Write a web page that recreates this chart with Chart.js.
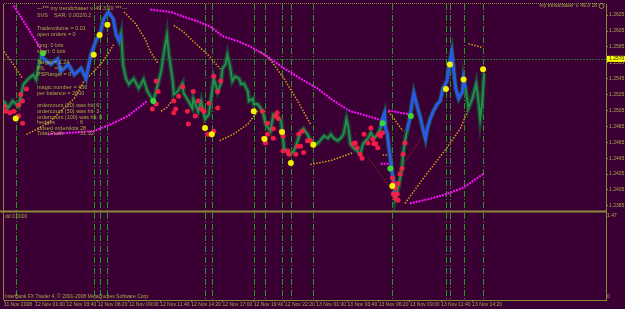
<!DOCTYPE html>
<html>
<head>
<meta charset="utf-8">
<script src="https://cdn.jsdelivr.net/npm/chart.js@4.4.0/dist/chart.umd.min.js"></script>
<style>
  html, body { margin: 0; padding: 0; background: #3a0033; }
  #wrap { width: 625px; height: 309px; }
</style>
</head>
<body>
<div id="wrap"><canvas id="chart"></canvas></div>
<script>
// time axis: one label every 32 bars (M5)
const timeLabels = [
  '11 Nov 2008', '12 Nov 01:00', '12 Nov 03:40', '12 Nov 06:20', '12 Nov 09:00',
  '12 Nov 11:40', '12 Nov 14:20', '12 Nov 17:00', '12 Nov 19:40', '12 Nov 22:20',
  '13 Nov 01:00', '13 Nov 03:40', '13 Nov 06:20', '13 Nov 09:00', '13 Nov 11:40',
  '13 Nov 14:20',
];
const barsPerLabel = 32;

const priceTicks = [1.2385, 1.2405, 1.2425, 1.2445, 1.2465, 1.2485, 1.2505,
  1.2525, 1.2545, 1.2565, 1.2585, 1.2605, 1.2625];
const bidPrice = 1.2570;
const ddTicks = [0, 1.47];

// price path
const priceBars = [
  0, 4, 9, 15, 17, 20, 25, 30, 33, 35,
  38, 41, 48, 55, 58, 66, 72, 79, 84, 86,
  89, 94, 99, 102, 107, 112, 115, 118, 120, 122,
  125, 128, 133, 138, 143, 147, 153, 156, 161, 164,
  167, 169, 173, 174, 178, 183, 184, 189, 193, 194,
  199, 202, 206, 210, 215, 219, 222, 224, 227, 229,
  232, 234, 237, 241, 243, 246, 250, 251, 255, 256,
  260, 263, 266, 268, 273, 276, 280, 284, 287, 289,
  294, 297, 301, 304, 307, 311, 314, 317, 321, 324,
  328, 332, 335, 338, 342, 345, 348, 351, 353, 355,
  358, 362, 365, 368, 373, 376, 379, 383, 386, 388,
  390, 391, 393, 394, 396, 398, 400, 401, 404, 406,
  408, 409, 411, 413, 416, 418, 420, 422, 424, 427,
  429, 432, 434, 437, 440, 444, 447, 450, 454, 457,
  459, 461, 463, 466, 470, 471, 473, 476, 480, 484,
  486, 488, 490, 492,
];
const priceClose = [
  1.2517, 1.2508, 1.2517, 1.2510, 1.2522, 1.2538, 1.2545, 1.2550, 1.2544, 1.2558,
  1.2573, 1.2570, 1.2563, 1.2570, 1.2554, 1.2563, 1.2550, 1.2558, 1.2545, 1.2557,
  1.2575, 1.2592, 1.2604, 1.2620, 1.2629, 1.2620, 1.2600, 1.2592, 1.2602, 1.2563,
  1.2545, 1.2538, 1.2545, 1.2533, 1.2544, 1.2529, 1.2517, 1.2530, 1.2554, 1.2579,
  1.2600, 1.2575, 1.2542, 1.2525, 1.2529, 1.2539, 1.2527, 1.2517, 1.2508, 1.2520,
  1.2504, 1.2517, 1.2494, 1.2500, 1.2545, 1.2529, 1.2538, 1.2558, 1.2563, 1.2575,
  1.2558, 1.2542, 1.2548, 1.2545, 1.2538, 1.2539, 1.2529, 1.2517, 1.2520, 1.2513,
  1.2513, 1.2508, 1.2500, 1.2488, 1.2479, 1.2500, 1.2498, 1.2492, 1.2458, 1.2454,
  1.2450, 1.2454, 1.2467, 1.2479, 1.2482, 1.2475, 1.2467, 1.2464, 1.2463, 1.2467,
  1.2473, 1.2470, 1.2475, 1.2470, 1.2467, 1.2470, 1.2475, 1.2494, 1.2483, 1.2463,
  1.2458, 1.2454, 1.2450, 1.2463, 1.2470, 1.2477, 1.2470, 1.2475, 1.2483, 1.2495,
  1.2502, 1.2483, 1.2475, 1.2463, 1.2445, 1.2425, 1.2413, 1.2394, 1.2408, 1.2420,
  1.2433, 1.2450, 1.2467, 1.2479, 1.2495, 1.2513, 1.2527, 1.2517, 1.2508, 1.2495,
  1.2483, 1.2469, 1.2483, 1.2495, 1.2504, 1.2513, 1.2517, 1.2533, 1.2542, 1.2567,
  1.2579, 1.2554, 1.2533, 1.2520, 1.2529, 1.2545, 1.2533, 1.2508, 1.2520, 1.2539,
  1.2520, 1.2495, 1.2513, 1.2552,
];
// bar ranges painted blue (trend mode)
const blueRanges = [[38, 120], [386, 402], [413, 473]];

// red markers
const redBars = [
  0, 2, 6, 10, 15, 17, 15, 19, 23, 19,
  152, 156, 156, 158,
  174, 174, 176, 179, 183, 188, 189, 194, 196, 199,
  202, 205, 209, 210, 215, 215, 219, 219, 222,
  265, 266, 268, 270, 270, 276, 276, 278, 280, 281,
  284, 286, 286, 291, 292, 299, 301, 302, 304, 306,
  307, 311, 314,
  358, 360, 362, 365, 367, 369, 373, 376, 378, 379,
  381, 383, 384, 386, 388,
  398, 399, 399, 401, 401, 403, 404, 404, 406, 408,
  409, 411,
];
const redPrices = [
  1.2510, 1.2504, 1.2502, 1.2504, 1.2512, 1.2525, 1.2498, 1.2489, 1.2532, 1.2517,
  1.2507, 1.2513, 1.2542, 1.2529,
  1.2517, 1.2502, 1.2507, 1.2523, 1.2535, 1.2504, 1.2488, 1.2529, 1.2498, 1.2517,
  1.2507, 1.2504, 1.2475, 1.2514, 1.2548, 1.2479, 1.2529, 1.2508, 1.2542,
  1.2504, 1.2470, 1.2464, 1.2489, 1.2475, 1.2482, 1.2470, 1.2498, 1.2502, 1.2495,
  1.2479, 1.2473, 1.2454, 1.2454, 1.2450, 1.2450, 1.2460, 1.2475, 1.2460, 1.2479,
  1.2452, 1.2467, 1.2467,
  1.2463, 1.2464, 1.2458, 1.2450, 1.2445, 1.2475, 1.2464, 1.2483, 1.2469, 1.2463,
  1.2463, 1.2458, 1.2475, 1.2473, 1.2477,
  1.2420, 1.2413, 1.2400, 1.2407, 1.2395, 1.2400, 1.2392, 1.2413, 1.2425, 1.2432,
  1.2450, 1.2464,
];

// signal bars: yellow dots + vertical lines
const signalBars = [12, 92, 98, 106, 206, 213, 256, 267, 285, 294, 317, 398, 453, 457, 471, 491];
const signalPrices = [1.2495, 1.2575, 1.2600, 1.2613, 1.2483, 1.2475, 1.2504, 1.2469,
  1.2478, 1.2439, 1.2462, 1.2410, 1.2532, 1.2563, 1.2544, 1.2557];

// green markers
const flipBars = [40, 153, 388, 396, 417];
const flipPrices = [1.2577, 1.2517, 1.2489, 1.2432, 1.2498];

// SAR (magenta), null = break
const sarBars = [
  10, 38, 38,
  45, 92, 110, 127, 147, 147,
  150, 171, 184, 199, 212, 225, 240, 253, 270, 287, 304, 321, 338, 355, 373, 389, 389,
  394, 416, 416,
  386, 396, 396,
  416, 437, 454, 471, 491,
];
const sarPrices = [
  1.2637, 1.2582, null,
  1.2475, 1.2479, 1.2488, 1.2498, 1.2517, null,
  1.2632, 1.2629, 1.2623, 1.2617, 1.2610, 1.2598, 1.2592, 1.2585, 1.2573, 1.2558,
  1.2545, 1.2533, 1.2517, 1.2504, 1.2498, 1.2492, null,
  1.2505, 1.2500, null,
  1.2438, 1.2438, null,
  1.2388, 1.2394, 1.2400, 1.2408, 1.2425,
];

// trailing stops (orange dotted), null = break
const stopBars = [
  0, 9, 19, 19,
  23, 35, 48, 58, 72, 82, 92, 99, 106, 113, 113,
  123, 135, 145, 150, 158, 158,
  174, 184, 194, 209, 222, 222,
  161, 167, 174, 174,
  221, 235, 250, 260, 260,
  263, 273, 287, 301, 314, 314,
  314, 335, 358, 358,
  388, 394, 394,
  394, 409, 409,
  411, 430, 454, 468, 476, 476,
  476, 491,
];
const stopPrices = [
  1.2579, 1.2564, 1.2545, null,
  1.2475, 1.2482, 1.2492, 1.2504, 1.2520, 1.2542, 1.2554, 1.2563, 1.2575, 1.2589, null,
  1.2629, 1.2614, 1.2594, 1.2579, 1.2564, null,
  1.2612, 1.2604, 1.2592, 1.2575, 1.2557, null,
  1.2504, 1.2509, 1.2520, null,
  1.2467, 1.2475, 1.2488, 1.2504, null,
  1.2579, 1.2569, 1.2545, 1.2517, 1.2488, null,
  1.2437, 1.2442, 1.2452, null,
  1.2449, 1.2449, null,
  1.2504, 1.2479, null,
  1.2388, 1.2420, 1.2458, 1.2483, 1.2507, null,
  1.2589, 1.2584,
];

// dark red trail lines
const trailBars = [373, 398, 398, 398, 430];
const trailPrices = [1.2446, 1.2404, null, 1.2417, 1.2475];

const infoLines = [
  ['---*** my trendchaser v. 49.3 20 ***---', 8],
  ['SVS    SAR: 0.002/0.2', 15],
  ['Tradevolume = 0.01', 28],
  ['open orders = 0', 34],
  ['long: 0 lots', 45],
  ['short: 0 lots', 51],
  ['Target = 1.24', 62],
  ['P/L      = 0', 68],
  ['PSPtarget = 0', 74],
  ['magic number = 456', 87],
  ['per balance = 2000', 93],
  ['ordercount (20) was hit: 6', 105.5],
  ['ordercount (50) was hit: 3', 111.5],
  ['ordercount (100) was hit: 0', 117],
];
const infoPairs = [
  ['hedges', ': 6', 122.5],
  ['closed orderslots', ': 28', 128],
  ['Total Profit', ': 31.32', 133.5],
];

const BG = '#3a0033';
const OLIVE = '#8a8a3a';
const TEXT = '#aaa848';
const FONT = '"Liberation Sans", Arial, sans-serif';

const pts = (xs, ys) => xs.map((x, i) => ({ x, y: ys[i] }));
const pricePts = pts(priceBars, priceClose);

const chartFrame = {
  id: 'chartFrame',
  beforeDraw(chart) {
    const { ctx, width, height } = chart;
    ctx.save();
    ctx.fillStyle = BG;
    ctx.fillRect(0, 0, width, height);
    ctx.restore();
  },
  beforeDatasetsDraw(chart) {
    const { ctx, chartArea, scales } = chart;
    const { x, y } = scales;
    ctx.save();
    ctx.lineWidth = 1;
    // bid line
    const by = Math.round(y.getPixelForValue(bidPrice)) + 0.5;
    ctx.strokeStyle = '#2c6a3c';
    ctx.setLineDash([2, 1]);
    ctx.beginPath();
    ctx.moveTo(chartArea.left, by);
    ctx.lineTo(chartArea.right, by);
    ctx.stroke();
    // signal verticals
    ctx.strokeStyle = '#1f9a22';
    ctx.setLineDash([6, 2, 1, 2]);
    signalBars.forEach((b) => {
      const px = Math.round(x.getPixelForValue(b)) + 0.5;
      ctx.beginPath();
      ctx.moveTo(px, chartArea.top);
      ctx.lineTo(px, chartArea.bottom);
      ctx.stroke();
    });
    ctx.restore();
  },
  afterDraw(chart) {
    const { ctx, chartArea, scales } = chart;
    const { y, ySub } = scales;
    ctx.save();
    // frame
    ctx.strokeStyle = OLIVE;
    ctx.lineWidth = 1;
    ctx.beginPath();
    ctx.moveTo(chartArea.left - 0.5, chartArea.top);
    ctx.lineTo(chartArea.left - 0.5, chartArea.bottom);
    ctx.stroke();
    ctx.setLineDash([1, 1]);
    ctx.beginPath();
    ctx.moveTo(chartArea.left, chartArea.top - 0.5);
    ctx.lineTo(chartArea.right, chartArea.top - 0.5);
    ctx.stroke();
    ctx.setLineDash([]);
    ctx.lineWidth = 2;
    ctx.beginPath();
    ctx.moveTo(0, ySub.top + 1);
    ctx.lineTo(chartArea.right, ySub.top + 1);
    ctx.stroke();

    // texts
    ctx.fillStyle = TEXT;
    ctx.textBaseline = 'middle';
    ctx.textAlign = 'left';
    ctx.font = '5.5px ' + FONT;
    infoLines.forEach(([t, ty]) => ctx.fillText(t, 37, ty));
    infoPairs.forEach(([a, b, ty]) => {
      ctx.fillText(a, 37, ty);
      ctx.fillText(b, 77, ty);
    });
    ctx.font = '5px ' + FONT;
    ctx.fillText('dd 0.0000', 5, ySub.top + 6);
    ctx.fillText('InterBank FX Trader 4, \u00a9 2001-2008 MetaQuotes Software Corp.', 5, 296.5);
    ctx.textAlign = 'right';
    ctx.fillText('my trendchaser v. 49.3 18', 597, 6);
    ctx.lineWidth = 0.8;
    ctx.strokeStyle = TEXT;
    ctx.beginPath();
    ctx.arc(601.5, 6, 2.5, 0, Math.PI * 2);
    ctx.stroke();

    // bid box on the price axis
    const by = y.getPixelForValue(bidPrice);
    ctx.fillStyle = '#ffff00';
    ctx.fillRect(chartArea.right + 1, by - 3, 625 - chartArea.right, 6);
    ctx.fillStyle = '#202000';
    ctx.textAlign = 'left';
    ctx.fillText(bidPrice.toFixed(4), chartArea.right + 3, by);
    ctx.restore();
  },
};

const lineSet = (data, color, width, order, dash) => ({
  type: 'line',
  data,
  borderColor: color,
  borderWidth: width,
  borderDash: dash || [],
  pointRadius: 0,
  tension: 0,
  spanGaps: false,
  yAxisID: 'y',
  order,
});
const dotSet = (data, color, r, order) => ({
  type: 'scatter',
  data,
  backgroundColor: color,
  borderWidth: 0,
  pointRadius: r,
  yAxisID: 'y',
  order,
});

const blueSets = blueRanges.map(([a, b]) =>
  lineSet(pricePts.filter((p) => p.x >= a && p.x <= b), '#2a58e8', 3, 4));

const tickFont = { family: FONT, size: 5 };

new Chart(document.getElementById('chart'), {
  data: {
    datasets: [
      dotSet(pts(signalBars, signalPrices), '#f2f200', 3, 1),
      dotSet(pts(flipBars, flipPrices), '#3ad83a', 3, 2),
      dotSet(pts(redBars, redPrices), 'rgba(255,28,70,0.92)', 2.5, 3),
      ...blueSets,
      lineSet(pricePts, '#22904a', 2, 5),
      lineSet(pricePts, 'rgba(20,96,56,0.6)', 5, 6),
      lineSet(pts(sarBars, sarPrices), '#ff10ff', 2, 7, [2, 1]),
      lineSet(pts(stopBars, stopPrices), '#d2a018', 1.5, 8, [1.5, 1.5]),
      lineSet(pts(trailBars, trailPrices), '#8a1c1c', 1.2, 9, [1.5, 1.5]),
    ],
  },
  options: {
    responsive: true,
    maintainAspectRatio: false,
    animation: false,
    layout: { padding: { left: 3, top: 2, right: 0, bottom: 0 } },
    plugins: { legend: { display: false }, tooltip: { enabled: false } },
    scales: {
      x: {
        type: 'linear',
        min: 0,
        max: 617,
        afterBuildTicks: (s) => {
          s.ticks = timeLabels.map((_, i) => ({ value: i * barsPerLabel }));
        },
        afterFit: (s) => { s.height = 9; },
        ticks: {
          callback: (v, i) => timeLabels[i],
          autoSkip: false,
          maxRotation: 0,
          minRotation: 0,
          align: 'start',
          padding: 0,
          color: TEXT,
          font: tickFont,
        },
        grid: { drawOnChartArea: false, tickLength: 2, color: OLIVE },
        border: { display: true, color: OLIVE },
      },
      y: {
        type: 'linear',
        position: 'right',
        stack: 'panes',
        stackWeight: 208,
        min: 1.2379,
        max: 1.2639,
        afterBuildTicks: (s) => { s.ticks = priceTicks.map((v) => ({ value: v })); },
        afterFit: (s) => { s.width = 19; },
        ticks: {
          callback: (v) => v.toFixed(4),
          autoSkip: false,
          padding: 1,
          color: TEXT,
          font: tickFont,
        },
        grid: { drawOnChartArea: false, tickLength: 2, color: OLIVE },
        border: { display: true, color: OLIVE },
      },
      ySub: {
        type: 'linear',
        position: 'right',
        stack: 'panes',
        stackWeight: 90,
        min: -0.053,
        max: 1.56,
        afterBuildTicks: (s) => { s.ticks = ddTicks.map((v) => ({ value: v })); },
        afterFit: (s) => { s.width = 19; },
        ticks: {
          callback: (v) => String(v),
          autoSkip: false,
          padding: 1,
          color: TEXT,
          font: tickFont,
        },
        grid: { drawOnChartArea: false, tickLength: 0, color: OLIVE },
        border: { display: true, color: OLIVE },
      },
    },
  },
  plugins: [chartFrame],
});
</script>
</body>
</html>
